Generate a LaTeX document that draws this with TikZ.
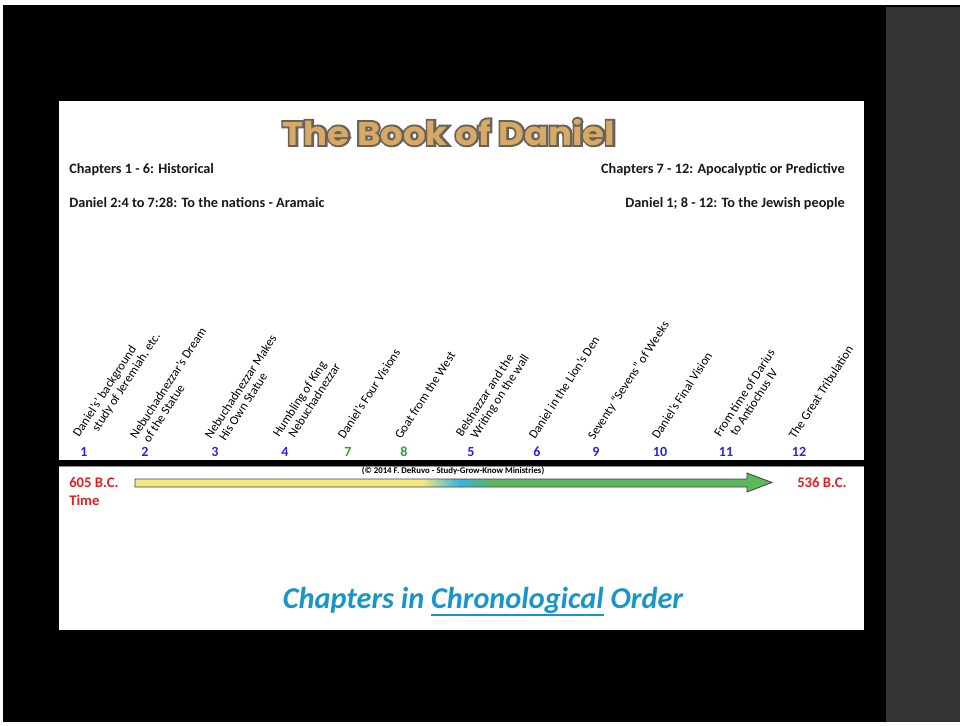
\documentclass[tikz,border=0pt]{standalone}
\usepackage{fontspec}
\setmainfont{Carlito}
\newfontfamily\titlefont{Poppins}
\definecolor{ylw}{RGB}{245,233,125}
\definecolor{blu}{RGB}{55,180,225}
\definecolor{grn}{RGB}{92,184,92}
\definecolor{numblue}{RGB}{40,35,225}
\definecolor{numgreen}{RGB}{50,160,50}
\definecolor{datered}{RGB}{230,30,30}
\definecolor{capblue}{RGB}{25,150,200}
\definecolor{titlefill}{RGB}{214,170,102}
\definecolor{titleline}{RGB}{105,98,90}
\definecolor{sidegray}{RGB}{51,51,51}
\pgfdeclarehorizontalshading{timeline}{100bp}{color(0bp)=(ylw); color(47.5bp)=(ylw); color(50.5bp)=(blu); color(53bp)=(grn); color(100bp)=(grn)}
\newcommand\chronoul[1]{\leavevmode\vtop{\hbox{#1}\kern0.6pt\hrule height 1.5pt}}
\begin{document}
\begin{tikzpicture}[x=0.75pt,y=-0.75pt,
  hdr/.style={inner sep=0pt, font=\bfseries\fontsize{10.7}{12}\selectfont, text=black!90},
  lab/.style={rotate=57, anchor=base west, inner sep=0pt, align=left, font=\fontsize{9.4}{9.75}\selectfont},
  num/.style={inner sep=0pt, font=\bfseries\fontsize{10.5}{12}\selectfont, text=numblue},
  numg/.style={num, text=numgreen},
  datel/.style={inner sep=0pt, anchor=base west, font=\bfseries\fontsize{11}{13}\selectfont, text=datered},
  ttl/.style={inner sep=0pt, xscale=1.085, font=\titlefont\bfseries\fontsize{24.6}{28}\selectfont}]
\useasboundingbox (0,0) rectangle (960,725);
\fill[white] (0,0) rectangle (960,725);
\fill[black] (3,5) rectangle (960,722);
\fill[sidegray] (886,7) rectangle (960,722);
\fill[white] (59,101) rectangle (864,630);
% title
\node[ttl, text=titleline, font=\titlefont\bfseries\fontsize{24.6}{28}\selectfont\addfontfeature{FakeBold=12}] (tshadow) at (449,132) {The Book of Daniel};
\node[ttl, text=titlefill] (title) at (449,132) {The Book of Daniel};
% headers
\node[hdr, anchor=base west] (h1) at (69,173) {Chapters 1 - 6: Historical};
\node[hdr, anchor=base west] (h2) at (69,207) {Daniel 2:4 to 7:28: To the nations - Aramaic};
\node[hdr, anchor=base east] (h3) at (845,173) {Chapters 7 - 12: Apocalyptic or Predictive};
\node[hdr, anchor=base east] (h4) at (845,207) {Daniel 1; 8 - 12: To the Jewish people};
% rotated labels
\node[lab] (l1) at (90,445) {Daniel’s’ background\\\hspace*{11pt}study of Jeremiah, etc.};
\node[lab] (l2) at (147,447) {Nebuchadnezzar’s Dream\\\hspace*{3pt}of the Statue};
\node[lab] (l3) at (222,447) {Nebuchadnezzar Makes\\\hspace*{4.5pt}His Own Statue};
\node[lab] (l4) at (290,445) {Humbling of King\\\hspace*{6pt}Nebuchadnezzar};
\node[lab] (l7) at (344,440) {Daniel’s Four Visions};
\node[lab] (l8) at (401,440) {Goat from the West};
\node[lab] (l5) at (473,445) {Belshazzar and the\\\hspace*{5pt}Writing on the wall};
\node[lab] (l6) at (535,440) {Daniel in the Lion’s Den};
\node[lab] (l9) at (594,441) {Seventy “Sevens” of Weeks};
\node[lab] (l10) at (658,440) {Daniel’s Final Vision};
\node[lab] (l11) at (731,445) {From time of Darius\\\hspace*{7pt}to Antiochus IV};
\node[lab] (l12) at (795,440) {The Great Tribulation};
% numbers
\node[num] (n1) at (84,452) {1};
\node[num] (n2) at (145,452) {2};
\node[num] (n3) at (215,452) {3};
\node[num] (n4) at (285,452) {4};
\node[numg] (n7) at (348,452) {7};
\node[numg] (n8) at (404,452) {8};
\node[num] (n5) at (471,452) {5};
\node[num] (n6) at (537,452) {6};
\node[num] (n9) at (596,452) {9};
\node[num] (n10) at (660,452) {10};
\node[num] (n11) at (726,452) {11};
\node[num] (n12) at (799,452) {12};
% black bar
\fill[black] (59,459.5) rectangle (864,465.5);
\draw[black!45, line width=0.6pt] (59,466.3) -- (864,466.3);
% copyright
\node[inner sep=0pt, font=\bfseries\fontsize{6.6}{7}\selectfont] (copy) at (453,471) {(© 2014 F. DeRuvo - Study-Grow-Know Ministries)};
% timeline arrow
\coordinate (as) at (135,483);
\coordinate (at) at (772,482.5);
\shadedraw[shading=timeline, draw=black!75, line width=0.6pt]
  (135,479) -- (747,479) -- (747,473) -- (at) -- (747,492) -- (747,487) -- (135,487) -- cycle;
% dates
\node[datel] (d1) at (69,487) {605 B.C.};
\node[datel] (tm) at (69,505) {Time};
\node[datel] (d2) at (797,487) {536 B.C.};
% caption
\node[inner sep=0pt, anchor=base, font=\bfseries\itshape\fontsize{22.7}{26}\selectfont, text=capblue] (cap) at (483,608) {Chapters in \chronoul{Chronological} Order};
\end{tikzpicture}
\end{document}
